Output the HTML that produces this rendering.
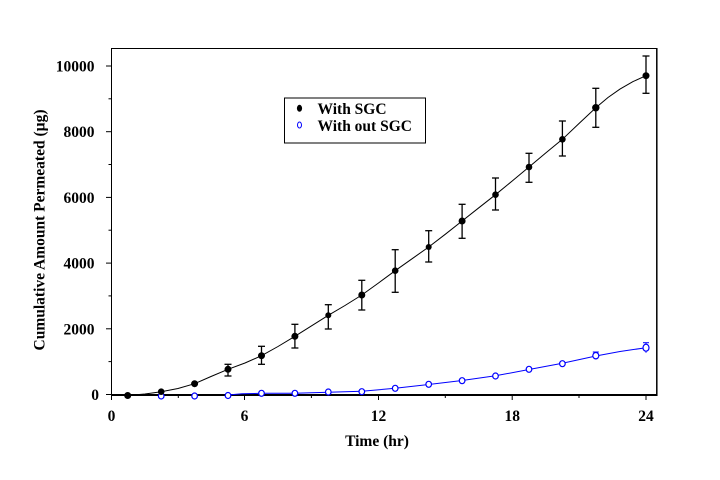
<!DOCTYPE html>
<html><head><meta charset="utf-8"><style>
html,body{margin:0;padding:0;background:#fff;}
svg{display:block;}
text{font-family:"Liberation Serif",serif;font-weight:bold;font-size:15.5px;fill:#000;}
</style></head><body>
<svg width="720" height="480" viewBox="0 0 720 480" xmlns="http://www.w3.org/2000/svg">
<rect width="720" height="480" fill="#fff"/>
<!-- frame -->
<line x1="111.5" y1="48.5" x2="657" y2="48.5" stroke="#000" stroke-width="1"/>
<line x1="111.5" y1="48" x2="111.5" y2="396" stroke="#000" stroke-width="1"/>
<line x1="656.8" y1="48" x2="656.8" y2="396" stroke="#000" stroke-width="1.5"/>
<line x1="111" y1="395" x2="657.5" y2="395" stroke="#000" stroke-width="2"/>
<!-- y ticks -->
<g stroke="#000" stroke-width="1">
<line x1="106" y1="394.5" x2="111" y2="394.5"/>
<line x1="108.5" y1="361.6" x2="111" y2="361.6"/>
<line x1="106" y1="328.8" x2="111" y2="328.8"/>
<line x1="108.5" y1="295.9" x2="111" y2="295.9"/>
<line x1="106" y1="263.1" x2="111" y2="263.1"/>
<line x1="108.5" y1="230.2" x2="111" y2="230.2"/>
<line x1="106" y1="197.4" x2="111" y2="197.4"/>
<line x1="108.5" y1="164.5" x2="111" y2="164.5"/>
<line x1="106" y1="131.7" x2="111" y2="131.7"/>
<line x1="108.5" y1="98.8" x2="111" y2="98.8"/>
<line x1="106" y1="66" x2="111" y2="66"/>
</g>
<!-- x ticks -->
<g stroke="#000" stroke-width="1">
<line x1="111.5" y1="395" x2="111.5" y2="400"/>
<line x1="178.3" y1="395" x2="178.3" y2="398"/>
<line x1="244.5" y1="395" x2="244.5" y2="400"/>
<line x1="311.4" y1="395" x2="311.4" y2="398"/>
<line x1="378.5" y1="395" x2="378.5" y2="400"/>
<line x1="445.3" y1="395" x2="445.3" y2="398"/>
<line x1="512.2" y1="395" x2="512.2" y2="400"/>
<line x1="579" y1="395" x2="579" y2="398"/>
<line x1="646" y1="395" x2="646" y2="400"/>
</g>
<!-- y tick labels -->
<text x="99" y="400" text-anchor="end">0</text>
<text x="94.5" y="334.3" text-anchor="end">2000</text>
<text x="94.5" y="268.6" text-anchor="end">4000</text>
<text x="94.5" y="202.9" text-anchor="end">6000</text>
<text x="94.5" y="137.2" text-anchor="end">8000</text>
<text x="94.5" y="71.5" text-anchor="end">10000</text>
<!-- x tick labels -->
<text x="111.5" y="421" text-anchor="middle">0</text>
<text x="244.5" y="421" text-anchor="middle">6</text>
<text x="378.5" y="421" text-anchor="middle">12</text>
<text x="512.2" y="421" text-anchor="middle">18</text>
<text x="646" y="421" text-anchor="middle">24</text>
<!-- axis titles -->
<text x="377" y="446" text-anchor="middle">Time (hr)</text>
<text transform="translate(44.5,230) rotate(-90)" text-anchor="middle">Cumulative Amount Permeated (µg)</text>

<!-- blue series -->
<polyline fill="none" stroke="#0000ff" stroke-width="1" points="228,395 242,393.8 261.5,393.3 294.9,393.2 328.3,392.2 361.8,391.2 395.2,388.3 428.7,384.5 462.1,380.5 495.5,375.8 529,369.5 562.4,363.3 595.8,356 620,351.5 646,347.7"/>
<g stroke="#0000ff" stroke-width="1" fill="none">
<line x1="595.8" y1="352" x2="595.8" y2="359.5"/>
<line x1="592.8" y1="352" x2="598.8" y2="352"/>
<line x1="646" y1="342.7" x2="646" y2="352.7"/>
<line x1="643" y1="342.7" x2="649" y2="342.7"/>
</g>
<g stroke="#0000ff" stroke-width="1.2" fill="#fff">
<ellipse cx="161.2" cy="396" rx="2.8" ry="3"/>
<ellipse cx="194.6" cy="396" rx="2.8" ry="3"/>
<ellipse cx="228" cy="395.5" rx="2.8" ry="3"/>
<ellipse cx="261.5" cy="393.3" rx="2.8" ry="3"/>
<ellipse cx="294.9" cy="393.3" rx="2.8" ry="3"/>
<ellipse cx="328.3" cy="392" rx="2.8" ry="3"/>
<ellipse cx="361.8" cy="391.7" rx="2.8" ry="3"/>
<ellipse cx="395.2" cy="388.3" rx="2.8" ry="3"/>
<ellipse cx="428.7" cy="384.3" rx="2.8" ry="3"/>
<ellipse cx="462.1" cy="380.7" rx="2.8" ry="3"/>
<ellipse cx="495.5" cy="376" rx="2.8" ry="3"/>
<ellipse cx="529" cy="369.3" rx="2.8" ry="3"/>
<ellipse cx="562.4" cy="363.7" rx="2.8" ry="3"/>
<ellipse cx="595.8" cy="355.7" rx="3" ry="3.2"/>
<ellipse cx="646" cy="347.7" rx="3" ry="3.5"/>
</g>

<!-- black series -->
<polyline fill="none" stroke="#000" stroke-width="1" points="127.7,395.5 145,394 161.2,391.7 178,388.5 194.6,383.7 211,376.5 228,369.3 245,363 261.5,355.7 278,346.5 294.9,336.3 311.6,325.8 328.3,315.3 345,305.5 361.8,295 378.5,283 395.2,270.7 412,258.8 428.7,247 445.4,234.2 462.1,221 478.8,207.8 495.5,194.7 512.2,181 529,167 545.7,153 562.4,139.3 579,123.5 595.8,107.7 608,97.5 620,89.1 633,81.6 646,75.7"/>
<g stroke="#000" stroke-width="1.3">
<line x1="194.6" y1="380.5" x2="194.6" y2="387"/>
<line x1="228" y1="364.3" x2="228" y2="376"/><line x1="224.5" y1="364.3" x2="231.5" y2="364.3"/><line x1="224.5" y1="376" x2="231.5" y2="376"/>
<line x1="261.5" y1="346.3" x2="261.5" y2="364.3"/><line x1="258" y1="346.3" x2="265" y2="346.3"/><line x1="258" y1="364.3" x2="265" y2="364.3"/>
<line x1="294.9" y1="324.3" x2="294.9" y2="348"/><line x1="291.4" y1="324.3" x2="298.4" y2="324.3"/><line x1="291.4" y1="348" x2="298.4" y2="348"/>
<line x1="328.3" y1="304.7" x2="328.3" y2="329"/><line x1="324.8" y1="304.7" x2="331.8" y2="304.7"/><line x1="324.8" y1="329" x2="331.8" y2="329"/>
<line x1="361.8" y1="280.3" x2="361.8" y2="310"/><line x1="358.3" y1="280.3" x2="365.3" y2="280.3"/><line x1="358.3" y1="310" x2="365.3" y2="310"/>
<line x1="395.2" y1="249.7" x2="395.2" y2="292.3"/><line x1="391.7" y1="249.7" x2="398.7" y2="249.7"/><line x1="391.7" y1="292.3" x2="398.7" y2="292.3"/>
<line x1="428.7" y1="230.7" x2="428.7" y2="262"/><line x1="425.2" y1="230.7" x2="432.2" y2="230.7"/><line x1="425.2" y1="262" x2="432.2" y2="262"/>
<line x1="462.1" y1="204.3" x2="462.1" y2="238.3"/><line x1="458.6" y1="204.3" x2="465.6" y2="204.3"/><line x1="458.6" y1="238.3" x2="465.6" y2="238.3"/>
<line x1="495.5" y1="178" x2="495.5" y2="210"/><line x1="492" y1="178" x2="499" y2="178"/><line x1="492" y1="210" x2="499" y2="210"/>
<line x1="529" y1="153.3" x2="529" y2="182.3"/><line x1="525.5" y1="153.3" x2="532.5" y2="153.3"/><line x1="525.5" y1="182.3" x2="532.5" y2="182.3"/>
<line x1="562.4" y1="121" x2="562.4" y2="156"/><line x1="558.9" y1="121" x2="565.9" y2="121"/><line x1="558.9" y1="156" x2="565.9" y2="156"/>
<line x1="595.8" y1="88.3" x2="595.8" y2="127.3"/><line x1="592.3" y1="88.3" x2="599.3" y2="88.3"/><line x1="592.3" y1="127.3" x2="599.3" y2="127.3"/>
<line x1="646" y1="56" x2="646" y2="93.3"/><line x1="642.5" y1="56" x2="649.5" y2="56"/><line x1="642.5" y1="93.3" x2="649.5" y2="93.3"/>
</g>
<g fill="#000">
<circle cx="127.7" cy="395.5" r="3.5"/>
<circle cx="161.2" cy="391.7" r="3.3"/>
<circle cx="194.6" cy="383.7" r="3.5"/>
<circle cx="228" cy="369.3" r="3.5"/>
<circle cx="261.5" cy="355.7" r="3.5"/>
<circle cx="294.9" cy="336.3" r="3.5"/>
<circle cx="328.3" cy="315.3" r="3"/>
<circle cx="361.8" cy="295" r="3.5"/>
<circle cx="395.2" cy="270.7" r="3.3"/>
<circle cx="428.7" cy="247" r="3"/>
<circle cx="462.1" cy="221" r="3.5"/>
<circle cx="495.5" cy="194.7" r="3.3"/>
<circle cx="529" cy="167" r="3.3"/>
<circle cx="562.4" cy="139.3" r="3.3"/>
<circle cx="595.8" cy="107.7" r="3.7"/>
<circle cx="646" cy="75.7" r="3.5"/>
</g>

<!-- legend -->
<rect x="284.5" y="98" width="141" height="45" fill="#fff" stroke="#000" stroke-width="1"/>
<ellipse cx="299.5" cy="108.3" rx="2.6" ry="3.5" fill="#000"/>
<ellipse cx="299.5" cy="125" rx="2" ry="3" fill="none" stroke="#0000ff" stroke-width="1"/>
<text x="317.5" y="114">With SGC</text>
<text x="317.5" y="131">With out SGC</text>
</svg>
</body></html>
